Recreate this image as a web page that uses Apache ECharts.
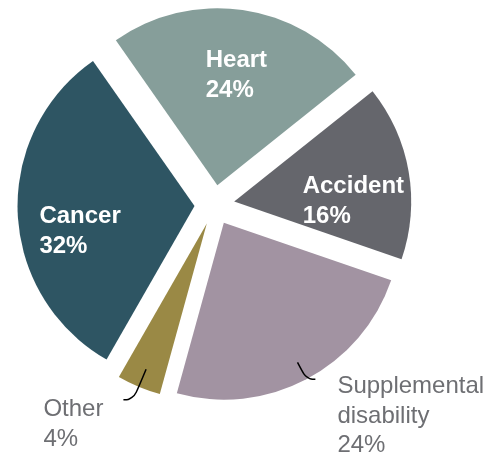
<!DOCTYPE html>
<html>
<head>
<meta charset="utf-8">
<title>Claims by cause</title>
<script src="https://cdn.jsdelivr.net/npm/echarts@6/dist/echarts.min.js"></script>
<style>
  html, body { margin: 0; padding: 0; background: #ffffff; }
  #chart { width: 496px; height: 455px; }
</style>
</head>
<body>
<div id="chart"></div>
<script>
// Share of claims by cause, in percent (clockwise from the top-left)
const categories = ['Heart', 'Accident', 'Supplemental disability', 'Other', 'Cancer'];
const shares = [24, 16, 24, 4, 32];

const sliceColors = {
  'Heart': '#869e9a',
  'Accident': '#65666c',
  'Supplemental disability': '#a293a2',
  'Other': '#9a8945',
  'Cancer': '#2e5563'
};

// Labels written on the slice itself vs. set outside with a leader line
const insideLabels = ['Heart', 'Accident', 'Cancer'];
const outsideLabels = ['Supplemental disability', 'Other'];

// Label nudges: [shift of the text block's left edge, shift of its centre line]
const labelNudge = {
  'Heart': [6, -19],
  'Accident': [29, 15.5],
  'Cancer': [-23, 21],
  'Other': [-15, 24.5],
  'Supplemental disability': [17, 37]
};
// Leader line segments: [radial length, horizontal length]
const leaderLength = {
  'Other': [33, 10],
  'Supplemental disability': [19, 9]
};

const CENTER = [214.5, 205];
const RADIUS = 177;
const LEADER_START = 158;
const EXPLODE = 20;
const START_ANGLE = 125;

const labelText = p => p.name.replace(' ', '\n') + '\n' + p.value + '%';

// Left-align every label block and move it by its nudge
function nudgeLabel(params) {
  const n = labelNudge[categories[params.dataIndex]];
  if (!n) return {};
  const r = params.labelRect;
  let anchorX = r.x + r.width / 2;
  if (params.align === 'left') anchorX = r.x;
  else if (params.align === 'right') anchorX = r.x + r.width;
  return {
    align: 'left',
    verticalAlign: 'middle',
    dx: r.x + n[0] - anchorX,
    dy: n[1]
  };
}

const sliceData = categories.map((name, i) => ({
  name: name,
  value: shares[i],
  selected: true,
  itemStyle: { color: sliceColors[name] },
  label: { show: insideLabels.includes(name) }
}));

const leaderData = categories.map((name, i) => ({
  name: name,
  value: shares[i],
  selected: true,
  label: { show: outsideLabels.includes(name) },
  labelLine: outsideLabels.includes(name)
    ? { show: true, length: leaderLength[name][0], length2: leaderLength[name][1] }
    : { show: false }
}));

const chart = echarts.init(document.getElementById('chart'), null, { renderer: 'canvas' });

chart.setOption({
  animation: false,
  tooltip: { show: false },
  series: [
    {
      name: 'slices',
      type: 'pie',
      center: CENTER,
      radius: [0, RADIUS],
      startAngle: START_ANGLE,
      clockwise: true,
      selectedMode: 'multiple',
      selectedOffset: EXPLODE,
      avoidLabelOverlap: false,
      itemStyle: { borderWidth: 0, borderRadius: 0 },
      emphasis: { scale: false, disabled: true },
      select: { itemStyle: { borderWidth: 0 } },
      label: {
        position: 'inside',
        formatter: labelText,
        color: '#ffffff',
        fontFamily: 'Liberation Sans, Arial, sans-serif',
        fontWeight: 'bold',
        fontSize: 24,
        lineHeight: 30
      },
      labelLine: { show: false },
      labelLayout: nudgeLabel,
      data: sliceData,
      z: 1
    },
    {
      name: 'leaders',
      type: 'pie',
      center: CENTER,
      radius: [0, LEADER_START],
      startAngle: START_ANGLE,
      clockwise: true,
      selectedMode: 'multiple',
      selectedOffset: EXPLODE,
      avoidLabelOverlap: false,
      silent: true,
      itemStyle: { color: 'rgba(0,0,0,0)', borderWidth: 0 },
      emphasis: { scale: false, disabled: true },
      select: { itemStyle: { color: 'rgba(0,0,0,0)', borderWidth: 0 } },
      label: {
        position: 'outside',
        formatter: labelText,
        color: '#6e6f73',
        fontFamily: 'Liberation Sans, Arial, sans-serif',
        fontWeight: 'normal',
        fontSize: 24,
        lineHeight: 29.5
      },
      labelLine: {
        smooth: 0.5,
        lineStyle: { color: '#000000', width: 1.5 }
      },
      labelLayout: nudgeLabel,
      data: leaderData,
      z: 2
    }
  ]
});
</script>
</body>
</html>
